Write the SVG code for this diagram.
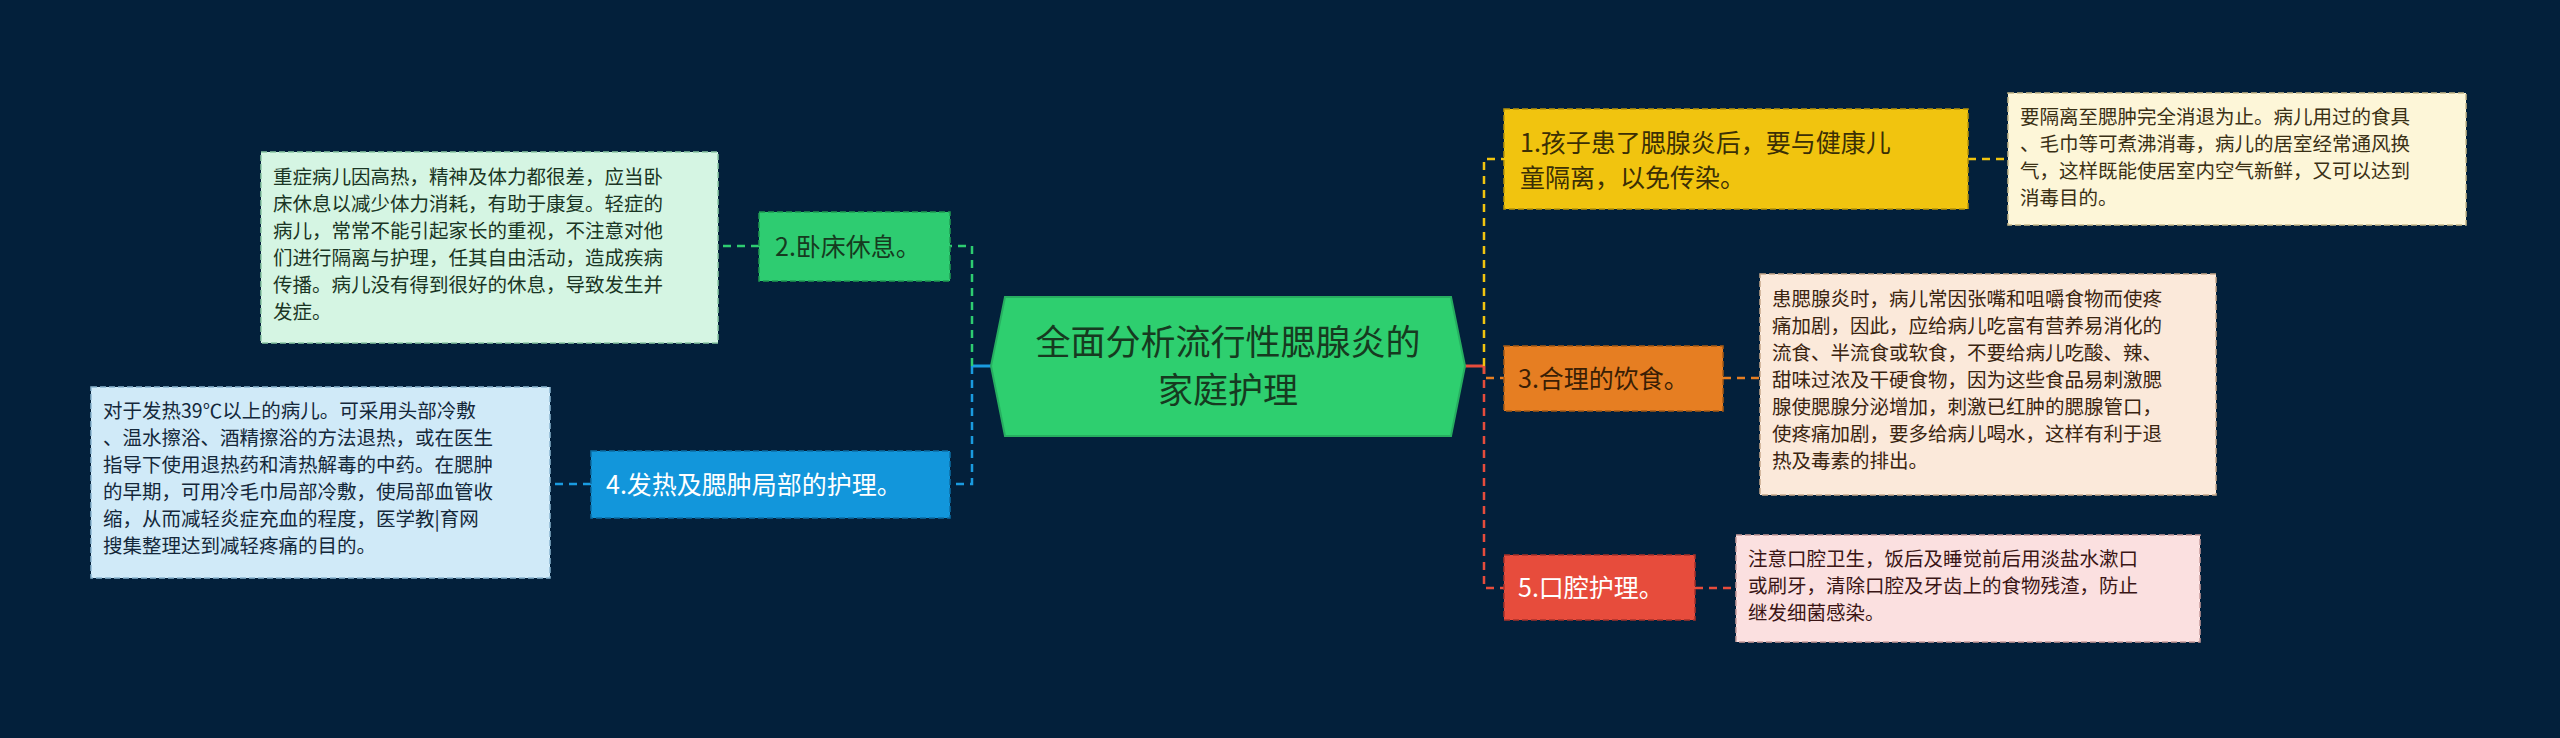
<svg xmlns="http://www.w3.org/2000/svg" width="2560" height="738" viewBox="0 0 2560 738">
<style>
text{font-family:"Noto Sans CJK SC","Liberation Sans",sans-serif}
.t{font-size:25px}
.d{font-size:19.5px}
.c{fill:none;stroke-width:2.5;stroke-dasharray:8 6}
.b{stroke-width:1.5;stroke-dasharray:6 3}
</style>
<rect width="2560" height="738" fill="#03203b"/>
<g id="connectors">
<line x1="991" y1="366" x2="972" y2="366" stroke="#1a9be0" stroke-width="3"/>
<line x1="1465" y1="366" x2="1484" y2="366" stroke="#e74c3c" stroke-width="3"/>
<path class="c" stroke="#2ecc71" d="M972 366 V246 H950"/>
<path class="c" stroke="#1a9be0" d="M972 366 V484 H950"/>
<path class="c" stroke="#f1c40f" d="M1484 366 V159 H1504"/>
<path class="c" stroke="#e67e22" d="M1484 366 V378 H1504"/>
<path class="c" stroke="#e74c3c" d="M1484 366 V588 H1504"/>
<path class="c" stroke="#f1c40f" d="M1968 159 H2008"/>
<path class="c" stroke="#e67e22" d="M1723 378 H1760"/>
<path class="c" stroke="#e74c3c" d="M1695 588 H1736"/>
<path class="c" stroke="#2ecc71" d="M759 246 H718"/>
<path class="c" stroke="#1a9be0" d="M591 484 H550"/>
</g>
<g id="center">
<polygon points="1005,297 1451,297 1465,366 1451,436 1005,436 991,366" fill="#2ecf6f" stroke="#27ae60" stroke-width="2"/>
<text x="1228" y="355" text-anchor="middle" font-size="35" fill="#163a20">全面分析流行性腮腺炎的</text>
<text x="1228" y="403" text-anchor="middle" font-size="35" fill="#163a20">家庭护理</text>
</g>
<g id="n1">
<rect x="1504" y="109" width="464" height="100" fill="#f1c40f" stroke="#b8940a" class="b"/>
<text class="t" x="1520" y="152" fill="#3b2f05">1.孩子患了腮腺炎后，要与健康儿</text>
<text class="t" x="1520" y="187" fill="#3b2f05">童隔离，以免传染。</text>
</g>
<g id="d1">
<rect x="2008" y="93" width="458" height="132" fill="#fdf6d8" stroke="#c8b98a" class="b"/>
<g class="d" fill="#3a3015">
<text x="2020" y="124">要隔离至腮肿完全消退为止。病儿用过的食具</text>
<text x="2020" y="151">、毛巾等可煮沸消毒，病儿的居室经常通风换</text>
<text x="2020" y="178">气，这样既能使居室内空气新鲜，又可以达到</text>
<text x="2020" y="205">消毒目的。</text>
</g>
</g>
<g id="n3">
<rect x="1504" y="346" width="219" height="65" fill="#e67e22" stroke="#a85a14" class="b"/>
<text class="t" x="1518" y="388" fill="#3a1e05">3.合理的饮食。</text>
</g>
<g id="d3">
<rect x="1760" y="274" width="456" height="221" fill="#fbe9da" stroke="#c8a88a" class="b"/>
<g class="d" fill="#3a2410">
<text x="1772" y="306">患腮腺炎时，病儿常因张嘴和咀嚼食物而使疼</text>
<text x="1772" y="333">痛加剧，因此，应给病儿吃富有营养易消化的</text>
<text x="1772" y="360">流食、半流食或软食，不要给病儿吃酸、辣、</text>
<text x="1772" y="387">甜味过浓及干硬食物，因为这些食品易刺激腮</text>
<text x="1772" y="414">腺使腮腺分泌增加，刺激已红肿的腮腺管口，</text>
<text x="1772" y="441">使疼痛加剧，要多给病儿喝水，这样有利于退</text>
<text x="1772" y="468">热及毒素的排出。</text>
</g>
</g>
<g id="n5">
<rect x="1504" y="555" width="191" height="65" fill="#e74c3c" stroke="#a8302a" class="b"/>
<text class="t" x="1518" y="597" fill="#ffffff">5.口腔护理。</text>
</g>
<g id="d5">
<rect x="1736" y="535" width="464" height="107" fill="#fbe0e0" stroke="#c89a9a" class="b"/>
<g class="d" fill="#3a1515">
<text x="1748" y="566">注意口腔卫生，饭后及睡觉前后用淡盐水漱口</text>
<text x="1748" y="593">或刷牙，清除口腔及牙齿上的食物残渣，防止</text>
<text x="1748" y="620">继发细菌感染。</text>
</g>
</g>
<g id="n2">
<rect x="759" y="212" width="191" height="69" fill="#2ecc71" stroke="#1f9a52" class="b"/>
<text class="t" x="775" y="256" fill="#163a20">2.卧床休息。</text>
</g>
<g id="d2">
<rect x="261" y="152" width="457" height="191" fill="#d5f5e3" stroke="#8ac8a5" class="b"/>
<g class="d" fill="#1a3524">
<text x="273" y="184">重症病儿因高热，精神及体力都很差，应当卧</text>
<text x="273" y="211">床休息以减少体力消耗，有助于康复。轻症的</text>
<text x="273" y="238">病儿，常常不能引起家长的重视，不注意对他</text>
<text x="273" y="265">们进行隔离与护理，任其自由活动，造成疾病</text>
<text x="273" y="292">传播。病儿没有得到很好的休息，导致发生并</text>
<text x="273" y="319">发症。</text>
</g>
</g>
<g id="n4">
<rect x="591" y="451" width="359" height="67" fill="#1296db" stroke="#0c6ea5" class="b"/>
<text class="t" x="606" y="494" fill="#ffffff">4.发热及腮肿局部的护理。</text>
</g>
<g id="d4">
<rect x="91" y="387" width="459" height="191" fill="#d0eaf8" stroke="#8ab5cf" class="b"/>
<g class="d" fill="#14283a">
<text x="103" y="418">对于发热39℃以上的病儿。可采用头部冷敷</text>
<text x="103" y="445">、温水擦浴、酒精擦浴的方法退热，或在医生</text>
<text x="103" y="472">指导下使用退热药和清热解毒的中药。在腮肿</text>
<text x="103" y="499">的早期，可用冷毛巾局部冷敷，使局部血管收</text>
<text x="103" y="526">缩，从而减轻炎症充血的程度，医学教|育网</text>
<text x="103" y="553">搜集整理达到减轻疼痛的目的。</text>
</g>
</g>
</svg>
